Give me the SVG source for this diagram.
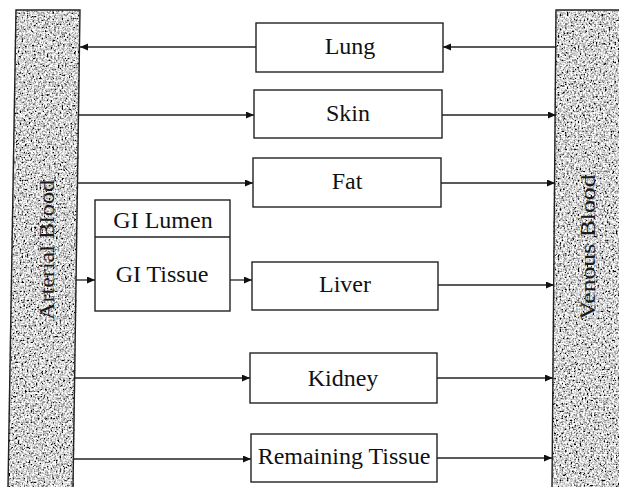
<svg xmlns="http://www.w3.org/2000/svg" width="619" height="487" viewBox="0 0 619 487">
<style>
.box{fill:#fff;stroke:#222;stroke-width:1.4}
.lbl{font-family:"Liberation Serif","Times New Roman",serif;font-size:24px;fill:#111;text-anchor:middle}
.bar{fill:#999;stroke:#222;stroke-width:1.4}
.barlbl{font-family:"Liberation Serif","Times New Roman",serif;font-size:21px;fill:#1a1a1a;text-anchor:middle}
.conn line{stroke:#222;stroke-width:1.3;marker-end:url(#arr)}
</style>
<defs>
<marker id="arr" markerUnits="userSpaceOnUse" markerWidth="9" markerHeight="8" refX="8" refY="3.5" orient="auto">
<path d="M0,0 L8,3.5 L0,7 z" fill="#111"/>
</marker>
<filter id="noise" x="0" y="0" width="100%" height="100%">
<feTurbulence type="fractalNoise" baseFrequency="0.55" numOctaves="2" seed="5" result="t"/>
<feColorMatrix in="t" type="matrix" values="1.6 1.6 1.6 0 -1.75  1.6 1.6 1.6 0 -1.75  1.6 1.6 1.6 0 -1.75  0 0 0 0 1" result="g"/>
<feComposite in="g" in2="SourceGraphic" operator="in"/>
</filter>
</defs>
<rect width="619" height="487" fill="#fff"/>
<g id="arterial">
<polygon class="bar" points="16,10 80,10 73,487 8,487" filter="url(#noise)"/>
<polyline points="8,487 16,10 80,10 73,487" fill="none" stroke="#222" stroke-width="1.4"/>
<text class="barlbl" transform="translate(54,250) rotate(-90)" textLength="140" lengthAdjust="spacingAndGlyphs">Arterial Blood</text>
</g>
<g id="venous">
<polygon class="bar" points="556,10 619,10 619,487 552,487" filter="url(#noise)"/>
<polyline points="552,487 556,10 619,10" fill="none" stroke="#222" stroke-width="1.4"/>
<text class="barlbl" transform="translate(595,247) rotate(-90)" textLength="145" lengthAdjust="spacingAndGlyphs">Venous Blood</text>
</g>
<g id="lung"><rect class="box" x="256" y="23" width="187" height="49"/><text class="lbl" x="350" y="54">Lung</text></g>
<g id="skin"><rect class="box" x="254" y="90" width="188" height="48"/><text class="lbl" x="348" y="121">Skin</text></g>
<g id="fat"><rect class="box" x="253" y="158" width="188" height="49"/><text class="lbl" x="347" y="189">Fat</text></g>
<g id="gi">
<rect class="box" x="95" y="200" width="135" height="111"/>
<line x1="95" y1="237" x2="230" y2="237" stroke="#222" stroke-width="1.4"/>
<text class="lbl" x="163" y="228">GI Lumen</text>
<text class="lbl" x="162" y="282">GI Tissue</text>
</g>
<g id="liver"><rect class="box" x="252" y="262" width="186" height="48"/><text class="lbl" x="345" y="292">Liver</text></g>
<g id="kidney"><rect class="box" x="250" y="353" width="187" height="50"/><text class="lbl" x="343" y="386">Kidney</text></g>
<g id="remaining"><rect class="box" x="251" y="434" width="186" height="48"/><text class="lbl" x="344" y="464">Remaining Tissue</text></g>
<g id="connectors" class="conn">
<line x1="556" y1="47" x2="443" y2="47"/>
<line x1="256" y1="47" x2="80" y2="47"/>
<line x1="79" y1="115" x2="254" y2="115"/>
<line x1="442" y1="115" x2="556" y2="115"/>
<line x1="78" y1="183" x2="253" y2="183"/>
<line x1="441" y1="183" x2="555" y2="183"/>
<line x1="76" y1="280" x2="95" y2="280"/>
<line x1="230" y1="280" x2="252" y2="280"/>
<line x1="438" y1="285" x2="554" y2="285"/>
<line x1="75" y1="378" x2="250" y2="378"/>
<line x1="437" y1="378" x2="553" y2="378"/>
<line x1="74" y1="459" x2="251" y2="459"/>
<line x1="437" y1="458" x2="552" y2="458"/>
</g>
</svg>
